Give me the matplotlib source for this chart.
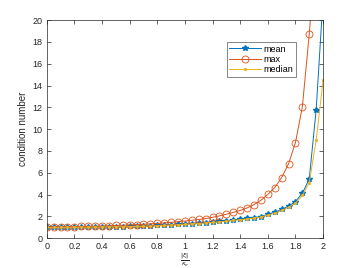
import numpy as np
import matplotlib
matplotlib.use("Agg")
import matplotlib.pyplot as plt

plt.rcParams['font.family'] = ['Liberation Sans', 'DejaVu Sans']
plt.rcParams['mathtext.fontset'] = 'dejavusans'

# x = |xi| / kappa_e, sampled every 0.05
x = np.arange(0, 2.0001, 0.05)

mean_vals = [1.00, 1.00, 1.00, 1.01, 1.01, 1.02, 1.02, 1.03, 1.04, 1.05,
             1.06, 1.07, 1.09, 1.10, 1.12, 1.14, 1.17, 1.20, 1.23, 1.27,
             1.31, 1.35, 1.39, 1.44, 1.49, 1.55, 1.61, 1.68, 1.76, 1.82,
             1.90, 1.99, 2.20, 2.38, 2.64, 2.94, 3.36, 4.13, 5.44, 11.8,
             22.0]
max_vals = [1.03, 1.04, 1.05, 1.06, 1.07, 1.08, 1.09, 1.10, 1.12, 1.14,
            1.17, 1.19, 1.22, 1.25, 1.28, 1.32, 1.36, 1.41, 1.46, 1.52,
            1.58, 1.65, 1.72, 1.80, 1.92, 2.05, 2.20, 2.37, 2.55, 2.78,
            3.08, 3.48, 4.02, 4.64, 5.56, 6.82, 8.77, 12.05, 18.75, 26.6,
            60.0]
median_vals = [1.00, 1.00, 1.00, 1.00, 1.01, 1.01, 1.02, 1.02, 1.03, 1.04,
               1.05, 1.06, 1.07, 1.09, 1.10, 1.12, 1.15, 1.17, 1.20, 1.24,
               1.27, 1.31, 1.35, 1.40, 1.45, 1.50, 1.56, 1.63, 1.70, 1.77,
               1.85, 1.94, 2.12, 2.30, 2.55, 2.84, 3.22, 3.92, 5.10, 9.0,
               14.5]

c_mean = '#0072BD'
c_max = '#D95319'
c_med = '#EDB120'
axcol = '#262626'

fig = plt.figure(figsize=(3.57, 2.68), dpi=100)
ax = fig.add_axes([0.131, 0.111, 0.774, 0.814])

ax.plot(x, mean_vals, '-*', color=c_mean, lw=0.7, ms=4, label='mean')
ax.plot(x, max_vals, '-o', color=c_max, lw=0.7, ms=5, mfc='none', mew=0.6, label='max')
ax.plot(x, median_vals, marker='.', color=c_med, lw=0.7, ms=2.5, linestyle='-', label='median')

ax.set_xlim(0, 2)
ax.set_ylim(0, 20)
ax.set_xticks(np.arange(0, 2.01, 0.2))
ax.set_xticklabels(['0', '0.2', '0.4', '0.6', '0.8', '1', '1.2', '1.4', '1.6', '1.8', '2'])
ax.set_yticks(np.arange(0, 21, 2))

ax.tick_params(direction='in', length=3, width=0.5, labelsize=6.5, colors=axcol,
               top=True, right=True, pad=3)
for s in ax.spines.values():
    s.set_linewidth(0.5)
    s.set_color(axcol)

ax.set_ylabel('condition number', fontsize=7, color=axcol, labelpad=3)
ax.set_xlabel(r'$\frac{|\xi|}{\kappa_e}$', fontsize=6.5, color=axcol, labelpad=0)

leg = ax.legend(loc='upper left', bbox_to_anchor=(0.651, 0.90), fontsize=6.5,
                fancybox=False, framealpha=1, edgecolor='#555555',
                handlelength=3.5, borderpad=0.3, labelspacing=0.15,
                handletextpad=0.3, borderaxespad=0)
leg.get_frame().set_linewidth(0.5)

fig.savefig('out.png', dpi=100)
